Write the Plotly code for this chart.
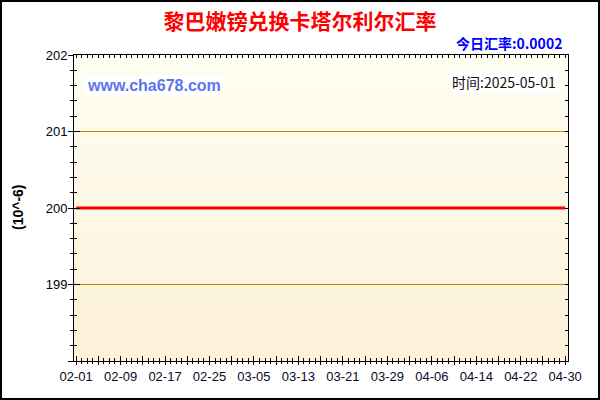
import pandas as pd
import plotly.graph_objects as go

# ---------------- data ----------------
start_date = "2025-02-01"
end_date = "2025-04-30"
dates = pd.date_range(start_date, end_date, freq="D")

# exchange rate in units of 10^-6 (flat at 200)
rate_feb = [200, 200, 200, 200, 200, 200, 200, 200, 200, 200,
            200, 200, 200, 200, 200, 200, 200, 200, 200, 200,
            200, 200, 200, 200, 200, 200, 200, 200]
rate_mar = [200, 200, 200, 200, 200, 200, 200, 200, 200, 200,
            200, 200, 200, 200, 200, 200, 200, 200, 200, 200,
            200, 200, 200, 200, 200, 200, 200, 200, 200, 200, 200]
rate_apr = [200, 200, 200, 200, 200, 200, 200, 200, 200, 200,
            200, 200, 200, 200, 200, 200, 200, 200, 200, 200,
            200, 200, 200, 200, 200, 200, 200, 200, 200, 200]
rate_values = rate_feb + rate_mar + rate_apr

y_tickvals = [198, 199, 200, 201, 202]
y_ticktext = ["", "199", "200", "201", "202"]

title_text = "黎巴嫩镑兑换卡塔尔利尔汇率"
today_text = "今日汇率:0.0002"
site_text = "www.cha678.com"
time_text = "时间:2025-05-01"
unit_text = "(10^-6)"

# ---------------- layout geometry ----------------
W, H = 600, 400
ML, MR, MT, MB = 74, 32, 55, 39
PW, PH = W - ML - MR, H - MT - MB


def px_x(px):
    return (px - ML) / PW


def px_y(py):
    return (H - MB - py) / PH


DAY = 86400000
x_range = ["2025-01-31 15:00", "2025-04-30 12:00"]
y_range = [198, 202]

LAT = "Liberation Sans, Arial, sans-serif"
CJK = "Noto Sans CJK SC, sans-serif"

fig = go.Figure()

fig.add_trace(go.Scatter(
    x=dates, y=rate_values, mode="lines",
    line=dict(color="#FF0000", width=3),
    showlegend=False, hoverinfo="x+y",
))
# invisible carriers for the overlay tick axes
fig.add_trace(go.Scatter(x=dates, y=rate_values, mode="lines", xaxis="x2", yaxis="y2",
                         line=dict(width=0), opacity=0, showlegend=False, hoverinfo="skip"))
fig.add_trace(go.Scatter(x=dates, y=rate_values, mode="lines", xaxis="x3", yaxis="y3",
                         line=dict(width=0), opacity=0, showlegend=False, hoverinfo="skip"))

# gradient background bands
top_c = (254, 254, 242)
bot_c = (253, 241, 216)
N = 40
shapes = []
for i in range(N):
    t = (i + 0.5) / N
    c = tuple(round(top_c[k] + (bot_c[k] - top_c[k]) * t) for k in range(3))
    shapes.append(dict(type="rect", xref="x domain", yref="y domain",
                       x0=0, x1=1, y0=1 - (i + 1) / N - 0.002, y1=1 - i / N,
                       fillcolor="rgb(%d,%d,%d)" % c, line=dict(width=0), layer="below"))
# outer frame
shapes.append(dict(type="rect", xref="paper", yref="paper",
                   x0=px_x(1), x1=px_x(599), y0=px_y(399), y1=px_y(1),
                   line=dict(color="#000000", width=2), fillcolor="rgba(0,0,0,0)", layer="above"))

tickfont = dict(family=LAT, size=13, color="#000000")

fig.update_layout(
    width=W, height=H,
    margin=dict(l=ML, r=MR, t=MT, b=MB, autoexpand=False),
    paper_bgcolor="#FFFFFF",
    plot_bgcolor="#FEFBEC",
    showlegend=False,
    shapes=shapes,
    title=dict(text="<b>%s</b>" % title_text, x=0.5, xref="container", xanchor="center",
               y=1 - 22 / H, yref="container", yanchor="middle",
               font=dict(family=CJK, size=21, color="#FF0000")),
    xaxis=dict(
        type="date", range=x_range, showgrid=False, zeroline=False,
        showline=True, linecolor="#000000", linewidth=1, mirror=True,
        tickmode="linear", tick0=start_date, dtick=4 * DAY, ticklabelstep=2,
        tickformat="%m-%d", ticks="outside", ticklen=3, tickcolor="#000000", tickwidth=1,
        minor=dict(tickmode="linear", tick0=start_date, dtick=DAY, ticks="outside",
                   ticklen=2, tickcolor="#000000", showgrid=False),
        tickfont=dict(family=LAT, size=13, color="#0A0A28"),
    ),
    xaxis2=dict(
        type="date", range=x_range, overlaying="x", side="top", showgrid=False,
        zeroline=False, showline=False, showticklabels=False,
        tickmode="linear", tick0=start_date, dtick=DAY, ticks="inside",
        ticklen=3, tickcolor="#000000",
    ),
    xaxis3=dict(
        type="date", range=x_range, overlaying="x", side="bottom", showgrid=False,
        zeroline=False, showline=False, showticklabels=False,
        tickmode="linear", tick0=start_date, dtick=4 * DAY, ticks="inside",
        ticklen=5, tickcolor="#000000",
        minor=dict(tickmode="linear", tick0=start_date, dtick=DAY, ticks="inside",
                   ticklen=3, tickcolor="#000000", showgrid=False),
    ),
    yaxis=dict(
        range=y_range, tickmode="array", tickvals=y_tickvals, ticktext=y_ticktext,
        showgrid=True, gridcolor="#B8860B", gridwidth=1, zeroline=False,
        showline=True, linecolor="#000000", linewidth=1, mirror=True,
        ticks="outside", ticklen=5, tickcolor="#000000", ticklabelstandoff=-2,
        minor=dict(tickmode="linear", tick0=198, dtick=0.2, ticks="outside",
                   ticklen=3, tickcolor="#000000", showgrid=False),
        tickfont=tickfont,
    ),
    yaxis2=dict(
        range=y_range, overlaying="y", side="right", showgrid=False, zeroline=False,
        showline=False, showticklabels=False,
        tickmode="linear", tick0=198, dtick=0.2, ticks="inside", ticklen=3,
        tickcolor="#000000",
    ),
    yaxis3=dict(
        range=y_range, overlaying="y", side="left", showgrid=False, zeroline=False,
        showline=False, showticklabels=False,
        tickmode="linear", tick0=198, dtick=1, ticks="inside", ticklen=6,
        tickcolor="#000000",
        minor=dict(tickmode="linear", tick0=198, dtick=0.2, ticks="inside",
                   ticklen=3, tickcolor="#000000", showgrid=False),
    ),
    annotations=[
        dict(text="<b>%s</b>" % today_text, xref="paper", yref="paper",
             x=px_x(564), y=px_y(43), xanchor="right", yanchor="middle", showarrow=False,
             font=dict(family=CJK, size=14, color="#0000FF")),
        dict(text="<b>%s</b>" % site_text, xref="paper", yref="paper",
             x=px_x(85), y=px_y(85), xanchor="left", yanchor="middle", showarrow=False,
             bgcolor="#FFFFFF", borderpad=1,
             font=dict(family=LAT, size=16, color="#5B74F0")),
        dict(text=time_text, xref="paper", yref="paper",
             x=px_x(558), y=px_y(82), xanchor="right", yanchor="middle", showarrow=False,
             bgcolor="#FFFFFF", borderpad=1,
             font=dict(family=CJK, size=14, color="#111111")),
        dict(text="<b>%s</b>" % unit_text, xref="paper", yref="paper",
             x=px_x(18), y=px_y(207), xanchor="center", yanchor="middle", showarrow=False,
             textangle=-90, font=dict(family=LAT, size=14, color="#000000")),
    ],
)

fig.write_html(
    "out.html",
    config={"displayModeBar": False},
    post_script="document.body.style.margin='0';document.body.style.padding='0';"
                "document.body.style.overflow='hidden';",
)
